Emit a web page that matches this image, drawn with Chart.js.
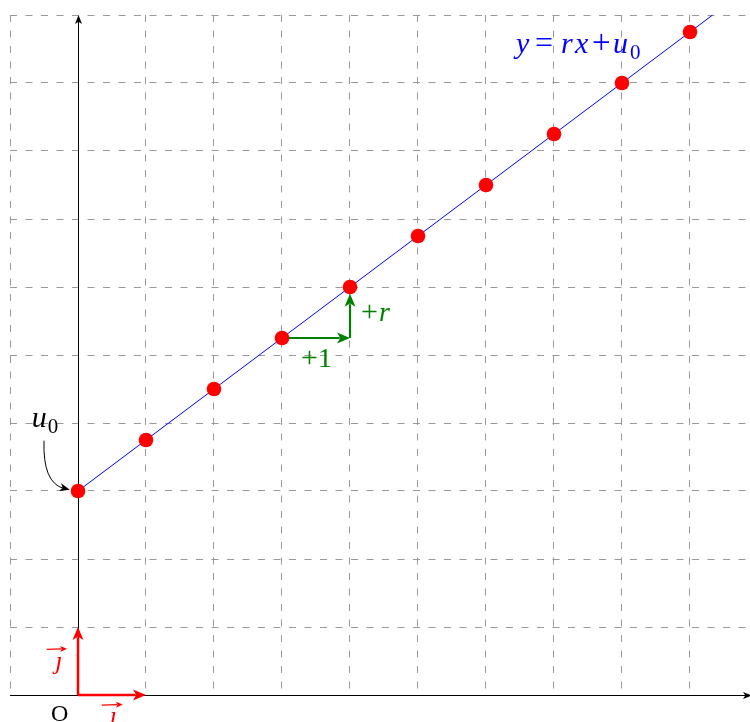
<!DOCTYPE html>
<html>
<head>
<meta charset="utf-8">
<script src="https://cdn.jsdelivr.net/npm/chart.js@4/dist/chart.umd.min.js"></script>
<style>
  html, body { margin: 0; padding: 0; background: #fff; }
  canvas { display: block; }
</style>
</head>
<body>
<canvas id="c" width="750" height="722"></canvas>
<script>
// Terms of the arithmetic sequence u_n = u0 + n·r (u0 = 3, r = 0.75), n = 0..9
const ranks = [0, 1, 2, 3, 4, 5, 6, 7, 8, 9];
const terms = [3, 3.75, 4.5, 5.25, 6, 6.75, 7.5, 8.25, 9, 9.75];

// The line y = r x + u0, from the y-axis to where it leaves the grid (y = 10)
const lineX = [0, 9.333];
const lineY = [3, 10];

// Grid lines (one per unit)
const xGrid = [-1, 0, 1, 2, 3, 4, 5, 6, 7, 8, 9];
const yGrid = [0, 1, 2, 3, 4, 5, 6, 7, 8, 9, 10];

const SERIF = '"Liberation Serif", "DejaVu Serif", serif';

function head(ctx, x1, y1, x2, y2, len, half, color) {
  const a = Math.atan2(y2 - y1, x2 - x1);
  ctx.save();
  ctx.fillStyle = color;
  ctx.beginPath();
  ctx.moveTo(x2, y2);
  ctx.lineTo(x2 - len * Math.cos(a) + half * Math.sin(a), y2 - len * Math.sin(a) - half * Math.cos(a));
  ctx.lineTo(x2 - len * 0.75 * Math.cos(a), y2 - len * 0.75 * Math.sin(a));
  ctx.lineTo(x2 - len * Math.cos(a) - half * Math.sin(a), y2 - len * Math.sin(a) + half * Math.cos(a));
  ctx.closePath();
  ctx.fill();
  ctx.restore();
}

function arrow(ctx, x1, y1, x2, y2, color, width, len, half) {
  const a = Math.atan2(y2 - y1, x2 - x1);
  ctx.save();
  ctx.strokeStyle = color;
  ctx.lineWidth = width;
  ctx.beginPath();
  ctx.moveTo(x1, y1);
  ctx.lineTo(x2 - len * 0.8 * Math.cos(a), y2 - len * 0.8 * Math.sin(a));
  ctx.stroke();
  ctx.restore();
  head(ctx, x1, y1, x2, y2, len, half, color);
}

// Draws text pieces {t, it (italic), sub (subscript), at (x offset), size} from (x, y)
function mathText(ctx, x, y, parts, size, color) {
  ctx.save();
  ctx.fillStyle = color;
  ctx.textBaseline = 'alphabetic';
  ctx.textAlign = 'left';
  for (const p of parts) {
    const s = p.sub ? Math.round(size * 0.7) : (p.size || size);
    ctx.font = (p.it ? 'italic ' : '') + s + 'px ' + SERIF;
    ctx.fillText(p.t, x + p.at, p.sub ? y + size * 0.2 : y);
  }
  ctx.restore();
}

const axesPlugin = {
  id: 'axes',
  beforeDatasetsDraw(chart) {
    const ctx = chart.ctx, xs = chart.scales.x, ys = chart.scales.y;
    const X = v => xs.getPixelForValue(v), Y = v => ys.getPixelForValue(v);
    ctx.save();
    // coordinate axes
    const x0 = Math.round(X(0)) + 0.5, y0 = Math.round(Y(0)) + 0.5;
    ctx.strokeStyle = '#000';
    ctx.lineWidth = 1;
    ctx.beginPath();
    ctx.moveTo(X(-1), y0);
    ctx.lineTo(X(xs.max) - 4, y0);
    ctx.moveTo(x0, Y(0));
    ctx.lineTo(x0, Y(10) + 6);
    ctx.stroke();
    head(ctx, x0, Y(0), x0, Y(10), 9, 3.5, '#000');
    head(ctx, X(-1), y0, X(xs.max) + 2, y0, 9, 3.5, '#000');

    // step from u3 to u4: +1 horizontally, +r vertically
    const g = '#008000';
    arrow(ctx, X(3), Y(5.25), X(4), Y(5.25), g, 2.2, 13, 5.5);
    arrow(ctx, X(4), Y(5.25), X(4), Y(5.9), g, 2.2, 13, 5.5);
    ctx.restore();
  },
  afterDatasetsDraw(chart) {
    const ctx = chart.ctx, xs = chart.scales.x, ys = chart.scales.y;
    const X = v => xs.getPixelForValue(v), Y = v => ys.getPixelForValue(v);
    ctx.save();

    // unit vectors i and j
    const red = '#ff0000';
    arrow(ctx, X(0), Y(0), X(1), Y(0), red, 2.5, 13, 5.5);
    arrow(ctx, X(0), Y(0), X(0), Y(1), red, 2.5, 13, 5.5);

    // origin
    ctx.fillStyle = '#000';
    ctx.font = '24px ' + SERIF;
    ctx.textAlign = 'center';
    ctx.textBaseline = 'alphabetic';
    ctx.fillText('O', X(-0.27), Y(-0.38));

    // vector labels
    ctx.fillStyle = red;
    ctx.font = 'italic 26px ' + SERIF;
    ctx.fillText('\u0237', X(-0.28), Y(0.38));
    arrow(ctx, X(-0.46), Y(0.67), X(-0.16), Y(0.68), red, 1.2, 7, 3);
    ctx.fillText('\u0131', X(0.52), Y(-0.43));
    arrow(ctx, X(0.35), Y(-0.15), X(0.66), Y(-0.14), red, 1.2, 7, 3);

    // u0 annotation with curved arrow to the first term
    mathText(ctx, X(-0.68), Y(3.94), [{ t: 'u', it: true, at: 0 }, { t: '0', sub: true, at: 16 }], 30, '#000');
    ctx.strokeStyle = '#000';
    ctx.lineWidth = 1;
    const sx = X(-0.5), sy = Y(3.74), ex = X(-0.12), ey = Y(3.02), cx = X(-0.52), cy = Y(3.12);
    ctx.beginPath();
    ctx.moveTo(sx, sy);
    ctx.quadraticCurveTo(cx, cy, ex - 6, ey - 1.2);
    ctx.stroke();
    head(ctx, cx, cy, ex, ey, 10, 4, '#000');

    // step labels
    const g = '#008000';
    mathText(ctx, X(3.28), Y(4.83), [{ t: '+', at: 0, size: 30 }, { t: '1', at: 17 }], 28, g);
    mathText(ctx, X(4.16), Y(5.5), [{ t: '+', at: 0, size: 30 }, { t: 'r', it: true, at: 18 }], 28, g);

    // equation of the line
    mathText(ctx, X(6.44), Y(9.44), [
      { t: 'y', it: true, at: 0 }, { t: '=', at: 19, size: 32 }, { t: 'r', it: true, at: 45 },
      { t: 'x', it: true, at: 59 }, { t: '+', at: 76, size: 33 }, { t: 'u', it: true, at: 97 },
      { t: '0', sub: true, at: 114 }
    ], 30, '#0000ff');

    ctx.restore();
  }
};

function gridScale(min, max, values) {
  return {
    type: 'linear',
    min, max,
    ticks: { display: false, stepSize: 1 },
    grid: {
      // the axis itself is drawn over value 0
      color: c => (c.tick && c.tick.value === 0 ? 'rgba(0,0,0,0)' : '#999999'),
      lineWidth: 1,
      drawTicks: false
    },
    border: { display: false, dash: [7, 8.5] },
    afterFit: s => { if (s.isHorizontal()) s.height = 0; else s.width = 0; },
    afterBuildTicks: s => { s.ticks = values.map(v => ({ value: v })); }
  };
}

new Chart(document.getElementById('c'), {
  type: 'scatter',
  data: {
    datasets: [
      {
        data: lineX.map((x, i) => ({ x, y: lineY[i] })),
        showLine: true,
        borderColor: '#0000ff',
        borderWidth: 1,
        pointRadius: 0,
        order: 2
      },
      {
        data: ranks.map((n, i) => ({ x: n, y: terms[i] })),
        backgroundColor: '#ff0000',
        borderColor: '#ff0000',
        borderWidth: 0,
        pointRadius: 7.3,
        order: 1
      }
    ]
  },
  options: {
    responsive: false,
    animation: false,
    devicePixelRatio: 1,
    layout: { autoPadding: false, padding: { left: 10, right: 0, top: 15, bottom: 27 } },
    scales: {
      x: gridScale(-1, 9.8824, xGrid),
      y: gridScale(0, 10, yGrid)
    },
    plugins: { legend: { display: false }, tooltip: { enabled: false } },
    elements: { line: { tension: 0 } }
  },
  plugins: [axesPlugin]
});
</script>
</body>
</html>
